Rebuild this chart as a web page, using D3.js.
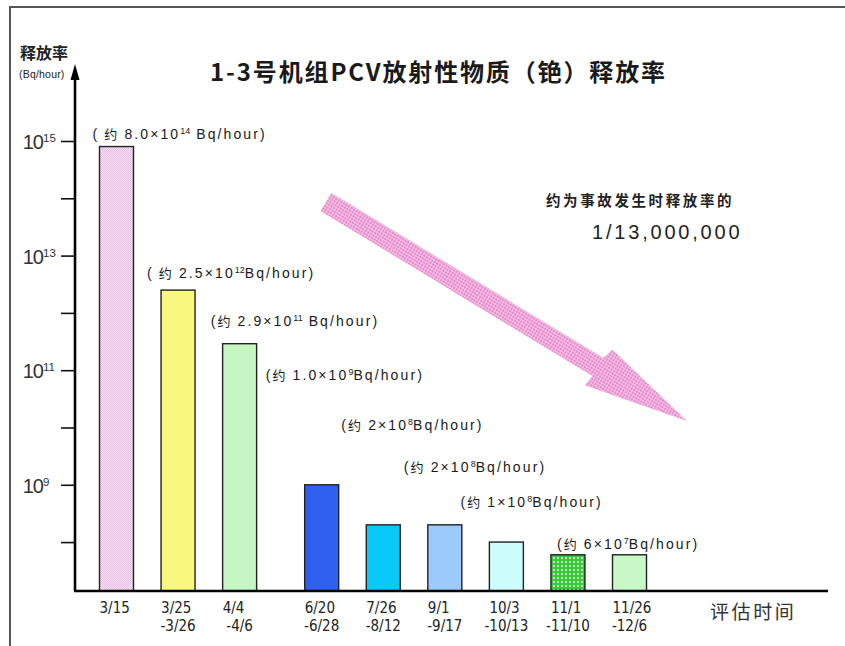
<!DOCTYPE html>
<html>
<head>
<meta charset="utf-8">
<script src="https://cdn.jsdelivr.net/npm/d3@7"></script>
<style>
  html, body { margin: 0; background: #fff; }
  svg { display: block; }
</style>
</head>
<body>
<script>
// Evaluation periods (start / end) and estimated release rates (Bq/hour)
const periods    = ["3/15", "3/25", "4/4", "6/20", "7/26", "9/1", "10/3", "11/1", "11/26"];
const periodEnds = ["", "-3/26", "-4/6", "-6/28", "-8/12", "-9/17", "-10/13", "-11/10", "-12/6"];
const releaseRate = [8.0e14, 2.5e12, 2.9e11, 1.0e9, 2e8, 2e8, 1e8, 6e7, 6e7];

// Value call-outs: mantissa and power of ten
const labelMantissa = ["8.0", "2.5", "2.9", "1.0", "2", "2", "1", "6"];
const labelExponent = ["14", "12", "11", "9", "8", "8", "8", "7"];

// Labelled decades on the log axis, plus the unlabelled ones in between
const yLabelExponents = [15, 13, 11, 9];
const yTickExponents  = [8, 9, 10, 11, 12, 13, 14, 15];

// ---- layout / styling ----
const W = 845, H = 646;
const axisX = 75, axisY = 591;
const barW = 34, groupGap = 20.5;
const barFill = ["url(#dotPink)", "#f8f87e", "#c6f6c2", "#2f60f0", "#0ac8f8",
                 "#9ccafa", "#cdfcfc", "url(#dotGreen)", "#c8f8c6"];
// call-out placement relative to bar left edge and bar top
const labelOffset = [[-7, 8], [-14, 12], [-12, 18], [-39, 105], [-25, 95], [-24, 53], [-29, 35], [6, 6]];

const svg = d3.select("body").append("svg")
  .attr("width", W).attr("height", H);

const defs = svg.append("defs");
// fine dotted pink fill
const pp = defs.append("pattern").attr("id", "dotPink")
  .attr("width", 2).attr("height", 2).attr("patternUnits", "userSpaceOnUse");
pp.append("rect").attr("width", 2).attr("height", 2).attr("fill", "#f6dcf2");
pp.append("rect").attr("width", 1).attr("height", 1).attr("fill", "#e8c0e2");
pp.append("rect").attr("x", 1).attr("y", 1).attr("width", 1).attr("height", 1).attr("fill", "#eac4e4");
// dotted green fill
const pg = defs.append("pattern").attr("id", "dotGreen")
  .attr("width", 4).attr("height", 4).attr("patternUnits", "userSpaceOnUse");
pg.append("rect").attr("width", 4).attr("height", 4).attr("fill", "#3cc83c");
pg.append("rect").attr("x", 1).attr("y", 1).attr("width", 2).attr("height", 2).attr("fill", "#9ee89e");
pg.append("rect").attr("x", 1.5).attr("y", 1.5).attr("width", 1).attr("height", 1).attr("fill", "#ffffff");
// checkered pink fill for the trend arrow
const pa = defs.append("pattern").attr("id", "checkPink")
  .attr("width", 3).attr("height", 3).attr("patternUnits", "userSpaceOnUse");
pa.append("rect").attr("width", 3).attr("height", 3).attr("fill", "#f4bee4");
pa.append("rect").attr("width", 2).attr("height", 2).attr("fill", "#e68aca");

// frame
svg.append("path").attr("d", `M10,${H} V7 H${W}`)
  .attr("fill", "none").attr("stroke", "#555").attr("stroke-width", 2);

// ---- scales ----
const y = d3.scaleLog().domain([1.4e7, 1e15]).range([axisY, 141]);
const xc = d3.scalePoint().domain(periods).range([116.5, 609]);
const barLeft = (d, i) => xc(d) - barW / 2 + (i >= 3 ? groupGap : 0);

// ---- y axis ----
const yAxis = d3.axisLeft(y)
  .tickValues(yTickExponents.map(e => Math.pow(10, e)))
  .tickSize(14).tickFormat("");
const gy = svg.append("g").attr("transform", `translate(${axisX},0)`).call(yAxis);
gy.select(".domain").remove();
gy.selectAll(".tick line").attr("stroke", "#111").attr("stroke-width", 1.6);

svg.append("line").attr("x1", axisX).attr("x2", axisX)
  .attr("y1", axisY).attr("y2", 76)
  .attr("stroke", "#000").attr("stroke-width", 2.6);
svg.append("path")
  .attr("d", `M${axisX},64 L${axisX + 4.5},80 L${axisX - 4.5},80 Z`)
  .attr("fill", "#000");

const yl = svg.append("g").attr("fill", "#333").attr("font-family", "Liberation Sans, Arial, sans-serif");
yLabelExponents.forEach(e => {
  const ty = y(Math.pow(10, e));
  yl.append("text").attr("x", 43).attr("y", ty + 8)
    .attr("text-anchor", "end").attr("font-size", 20).attr("letter-spacing", -1)
    .text("10");
  yl.append("text").attr("x", 43).attr("y", ty + 1)
    .attr("font-size", 11.5).text(String(e));
});

svg.append("text").attr("x", 20).attr("y", 59)
  .attr("font-family", "Noto Sans CJK SC").attr("font-weight", "bold")
  .attr("font-size", 16).attr("fill", "#222").text("释放率");
svg.append("text").attr("x", 19).attr("y", 78)
  .attr("font-family", "Liberation Sans, Arial, sans-serif")
  .attr("font-size", 10.5).attr("fill", "#222").attr("letter-spacing", 0.2).text("(Bq/hour)");

// ---- bars ----
svg.append("g").selectAll("rect").data(periods).join("rect")
  .attr("x", (d, i) => barLeft(d, i))
  .attr("y", (d, i) => y(releaseRate[i]))
  .attr("width", barW)
  .attr("height", (d, i) => axisY - y(releaseRate[i]))
  .attr("fill", (d, i) => barFill[i])
  .attr("stroke", "#222").attr("stroke-width", 1.4);

// ---- x axis ----
svg.append("line").attr("x1", axisX - 1).attr("x2", 828)
  .attr("y1", axisY).attr("y2", axisY)
  .attr("stroke", "#000").attr("stroke-width", 2.6);

const xl = svg.append("g").attr("fill", "#222")
  .attr("font-family", "DejaVu Sans Condensed, DejaVu Sans, sans-serif").attr("font-size", 15);
periods.forEach((d, i) => {
  const left = barLeft(d, i);
  xl.append("text").attr("x", left).attr("y", 613).text(d);
  if (periodEnds[i]) {
    xl.append("text").attr("x", left + barW / 2).attr("y", 631)
      .attr("text-anchor", "middle").text(periodEnds[i]);
  }
});
svg.append("text").attr("x", 710).attr("y", 619)
  .attr("font-family", "Noto Sans CJK SC").attr("font-size", 19)
  .attr("fill", "#333").attr("letter-spacing", 2.6).text("评估时间");

// ---- value call-outs ----
const vl = svg.append("g").attr("fill", "#1a1a1a")
  .attr("font-family", "Liberation Sans, Arial, sans-serif").attr("font-size", 14);
labelMantissa.forEach((m, i) => {
  const d = periods[i];
  const [dx, dy] = labelOffset[i];
  const t = vl.append("text")
    .attr("x", barLeft(d, i) + dx)
    .attr("y", y(releaseRate[i]) - dy)
    .attr("letter-spacing", 2.1);
  t.append("tspan").text("(");
  t.append("tspan").attr("font-family", "Noto Sans CJK SC").attr("font-size", 13).text(i < 2 ? " 约 " : "约 ");
  t.append("tspan").text(m + "×10");
  t.append("tspan").attr("dy", -5).attr("font-size", 9).attr("letter-spacing", 0).text(labelExponent[i]);
  t.append("tspan").attr("dy", 5).text((i === 0 || i === 2 ? " " : "") + "Bq/hour)");
});

// ---- title ----
svg.append("text").attr("x", 210).attr("y", 81)
  .attr("font-family", "Noto Sans CJK SC").attr("font-weight", "bold")
  .attr("font-size", 24).attr("fill", "#1a1a1a")
  .attr("textLength", 455).attr("lengthAdjust", "spacing")
  .text("1-3号机组PCV放射性物质（铯）释放率");

// ---- trend arrow ----
const tail = [326, 202], tip = [687, 421];
const ang = Math.atan2(tip[1] - tail[1], tip[0] - tail[0]) * 180 / Math.PI;
const L = Math.hypot(tip[0] - tail[0], tip[1] - tail[1]);
const headL = 104, shaftHW = 10.5, headHW = 22.5;
svg.append("path")
  .attr("transform", `translate(${tail[0]},${tail[1]}) rotate(${ang})`)
  .attr("d", `M0,${-shaftHW} L${L - headL},${-shaftHW} L${L - headL + 3},${-headHW}
              L${L},0 L${L - headL - 2},${headHW} L${L - headL},${shaftHW} L0,${shaftHW} Z`)
  .attr("fill", "url(#checkPink)");

// ---- reduction note ----
svg.append("text").attr("x", 546).attr("y", 206)
  .attr("font-family", "Noto Sans CJK SC").attr("font-weight", "bold")
  .attr("font-size", 14.5).attr("fill", "#222").attr("letter-spacing", 2.6)
  .text("约为事故发生时释放率的");
svg.append("text").attr("x", 592).attr("y", 239)
  .attr("font-family", "Liberation Sans, Arial, sans-serif")
  .attr("font-size", 20).attr("fill", "#222").attr("letter-spacing", 2.8)
  .text("1/13,000,000");
</script>
</body>
</html>
